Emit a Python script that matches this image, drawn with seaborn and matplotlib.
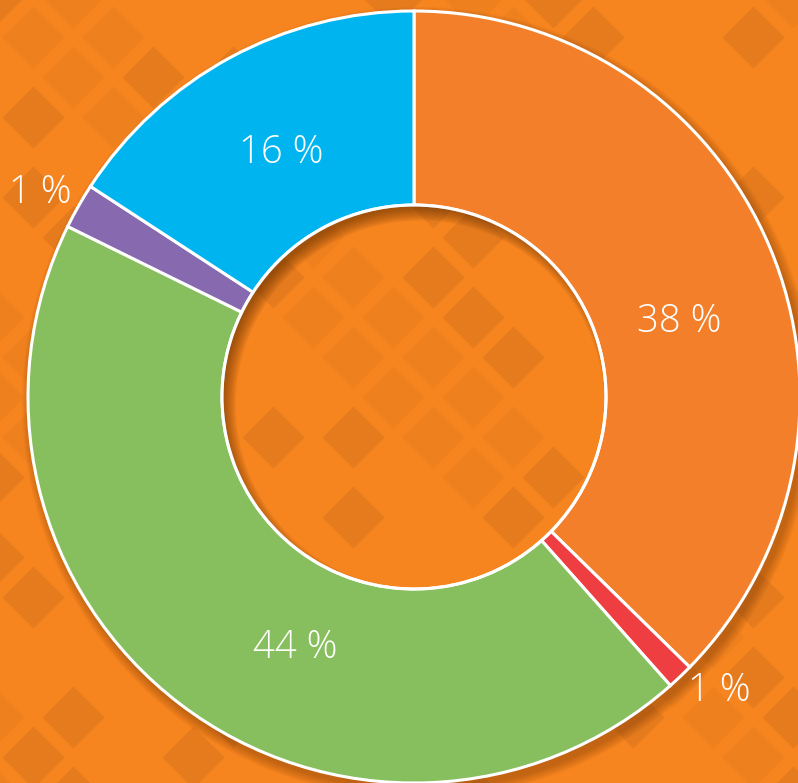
import numpy as np
import matplotlib
matplotlib.use("Agg")
import matplotlib.pyplot as plt
import seaborn as sns
from matplotlib.patches import Circle, Wedge

# shares (clockwise from 12 o'clock)
shares = [37.3, 1.1, 43.8, 1.9, 15.8]
labels = ['38 %', '1 %', '44 %', '1 %', '16 %']
colors = ['#F37F2A', '#EE3E42', '#88BF5E', '#8669AE', '#00B5EF']
# label placement: radius (px) and angular nudge from wedge middle (deg)
label_r = [276, 424, 277, 426, 278]
label_nudge = [-7, 2.5, 12, 1.0, 0]

bg = '#F6841F'
W, H = 798, 783
cx, cy = 414, H - 397
R_out, R_in = 386, 192

sns.set_theme(style='white')
plt.rcParams['font.family'] = ['Open Sans', 'DejaVu Sans']

fig = plt.figure(figsize=(W / 100, H / 100), dpi=100)
fig.patch.set_facecolor(bg)
ax = fig.add_axes([0, 0, 1, 1])
ax.set_facecolor(bg)
ax.set_xlim(0, W)
ax.set_ylim(0, H)
ax.set_aspect('equal')
ax.axis('off')

# faint diamond lattice in the background (decoration only)
a, b = np.meshgrid(np.arange(-1, 22), np.arange(-1, 22))
px, py = a * 40 - 7, H - (b * 40 - 3)
on = ((a + b) % 2 == 0)
strong = on & (((a * 5 + b * 3 + (a * b) % 3) % 7) < 2)
weak = on & ~strong & (((a * 3 + b * 7) % 5) < 2)
ax.scatter(px[strong], py[strong], marker='D', s=1000, color='#A85A1A',
           alpha=0.2, linewidths=0, zorder=0)
ax.scatter(px[weak], py[weak], marker='D', s=1000, color='#A85A1A',
           alpha=0.08, linewidths=0, zorder=0)

# soft drop shadow under the ring (annulus only)
for k in range(10):
    r = R_out + 10 - k
    ax.add_patch(Wedge((cx + 4, cy - 6), r, 0, 360, width=r - R_in - 30,
                       color='#5A2A00', alpha=0.035, lw=0, zorder=1))

wedges, _ = ax.pie(shares, colors=colors, startangle=90, counterclock=False,
                   radius=R_out, center=(cx, cy),
                   wedgeprops=dict(width=R_out - R_in, edgecolor='white',
                                   linewidth=2.2))
for w in wedges:
    w.set_zorder(2)
ax.set_xlim(0, W)
ax.set_ylim(0, H)

# inset shadow inside the hole, heavier at upper left
hole = Circle((cx, cy), R_in, transform=ax.transData)
for k in range(9):
    ring = Circle((cx + 6, cy - 8), R_in + 6, fill=False,
                  edgecolor='#5A2A00', lw=2 + 2.2 * k, alpha=0.08, zorder=3)
    ax.add_patch(ring)
    ring.set_clip_path(hole)
ax.add_patch(Circle((cx, cy), R_in, fill=False, edgecolor='white', lw=2.2,
                    zorder=4))

for w, lab, r, nd in zip(wedges, labels, label_r, label_nudge):
    mid = np.deg2rad((w.theta1 + w.theta2) / 2 + nd)
    ax.text(cx + r * np.cos(mid), cy + r * np.sin(mid), lab, color='white',
            fontsize=27.5, fontweight='light', ha='center', va='center',
            zorder=5)

fig.savefig('out.png', dpi=100, facecolor=bg)
